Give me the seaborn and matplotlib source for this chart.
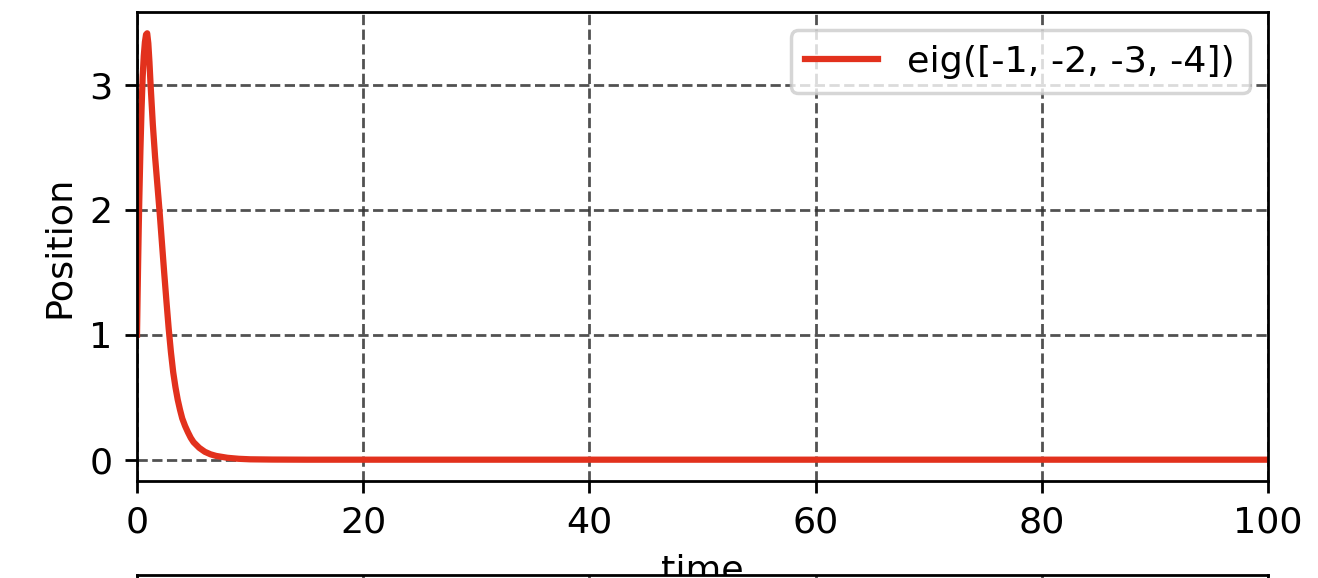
import matplotlib
matplotlib.use("Agg")
import matplotlib.pyplot as plt
import pandas as pd
import seaborn as sns

# Step response of the system with eigenvalues -1, -2, -3, -4
time = [0.0, 0.05, 0.1, 0.15, 0.2, 0.3, 0.4, 0.5, 0.6, 0.7, 0.8, 0.9,
        1.0, 1.1, 1.2, 1.4, 1.6, 1.8, 2.0, 2.2, 2.4, 2.6, 2.8, 3.0,
        3.2, 3.4, 3.6, 3.8, 4.0, 4.25, 4.5, 4.75, 5.0, 5.5, 6.0, 6.5,
        7.0, 8.0, 9.0, 10.0, 12.0, 15.0, 20.0, 30.0, 40.0, 50.0, 60.0,
        70.0, 80.0, 90.0, 100.0]
position = [1.00, 1.30, 1.58, 1.84, 2.07, 2.47, 2.80, 3.06, 3.23, 3.34,
            3.40, 3.41, 3.33, 3.18, 3.00, 2.68, 2.42, 2.20, 1.98, 1.74,
            1.50, 1.27, 1.05, 0.86, 0.70, 0.58, 0.48, 0.40, 0.33, 0.27,
            0.22, 0.175, 0.14, 0.095, 0.063, 0.043, 0.03, 0.015, 0.007,
            0.003, 0.001, 0.0, 0.0, 0.0, 0.0, 0.0, 0.0, 0.0, 0.0, 0.0, 0.0]
series_label = "eig([-1, -2, -3, -4])"
x_ticks = [0, 20, 40, 60, 80, 100]

df = pd.DataFrame({"time": time, "Position": position})

plt.rcParams["font.size"] = 10.5

fig = plt.figure(figsize=(1318 / 250, 578 / 250), dpi=250)
ax = fig.add_axes([137 / 1318, 1 - 481 / 578, (1268 - 137) / 1318, (481 - 12) / 578])

sns.lineplot(data=df, x="time", y="Position", ax=ax, color="#e2311d",
             linewidth=1.8, label=series_label)
ax.set_xlim(0, 100)
ax.set_xticks(x_ticks)
ax.grid(True, linestyle="--", color="#333333", alpha=0.85, linewidth=0.8)
ax.set_axisbelow(True)
ax.legend(loc="upper right")

# Next panel of the stacked figure, starting just below
ax2 = fig.add_axes([137 / 1318, 1 - 575 / 578 - 0.8, (1268 - 137) / 1318, 0.8])
ax2.set_xlim(0, 100)
ax2.set_xticks(x_ticks)
ax2.set_yticks([])
ax2.tick_params(axis="x", labelbottom=False, bottom=False)
ax2.grid(True, axis="x", linestyle="--", color="#333333", alpha=0.85, linewidth=0.8)
ax2.set_facecolor("white")

fig.savefig("out.png", dpi=250)
